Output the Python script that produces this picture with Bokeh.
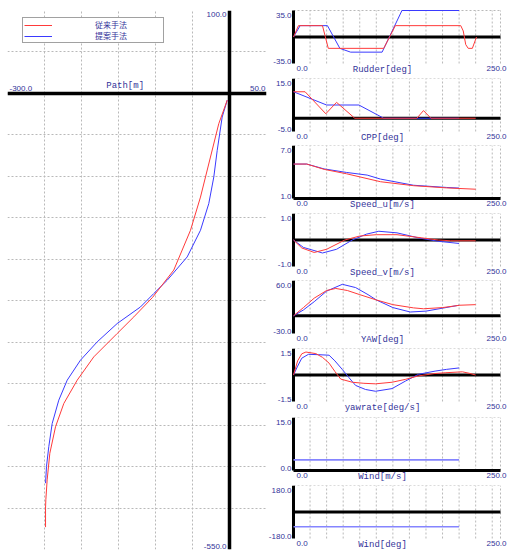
from bokeh.plotting import figure
from bokeh.models import Range1d, Span, Label, Grid, FixedTicker, Legend, LegendItem
from bokeh.layouts import row, column
from bokeh.embed import file_html
from bokeh.resources import INLINE

# ---------------- data ----------------
series_names = ["従来手法", "提案手法"]

# Path [m]  (conventional = red, proposed = blue)
path_conv_x = [-3, -14.5, -25.7, -39.2, -52.7, -75.3, -104, -129.3, -151.8, -183.4,
               -205.8, -223.9, -235.1, -242.8, -246.4, -248.2, -248.6, -248.6]
path_conv_y = [-8, -36.5, -76.7, -125, -165, -213, -246, -269.5, -289.5, -317.7,
               -345.8, -373.9, -402, -434, -466, -490, -500, -523]
path_prop_x = [-3, -9.9, -16.6, -21.2, -28, -39.2, -57.2, -84.2, -102.3, -120.3,
               -151.8, -178.8, -201.4, -219.3, -230.7, -239.6, -244.2, -247.3, -248.6]
path_prop_y = [-8, -28.5, -68.7, -100.8, -132.9, -165, -197.2, -225.3, -241.3, -257.5,
               -277.5, -299.6, -321.7, -345.8, -369.9, -398, -426, -450, -470]
path_x_range = [-300.0, 50.0]
path_y_range = [-550.0, 100.0]
path_title = "Path[m]"

time_range = [0.0, 250.0]

rudder_t_conv = [0, 6, 35, 42, 109, 123, 202, 205, 208, 211, 216, 221]
rudder_conv = [0, 15, 15, -15, -15, 15, 15, 8, -10, -15, -15, 0]
rudder_t_prop = [0, 8, 41, 56, 69, 107, 131, 200]
rudder_prop = [0, 15, 15, -15, -20, -20, 35, 35]

cpp_t_conv = [0, 14, 39, 52, 74, 149, 157, 166, 220]
cpp_conv = [10, 10, 1.7, 6, 0, 0, 2.9, 0, 0]
cpp_t_prop = [0, 40, 79, 109, 200]
cpp_prop = [10, 5, 5, 0, 0]

speed_u_t_conv = [0, 16, 37, 64, 105, 145, 185, 220]
speed_u_conv = [4.9, 4.9, 4.3, 3.8, 2.9, 2.45, 2.2, 2.05]
speed_u_t_prop = [0, 16, 37, 64, 89, 105, 145, 185, 200]
speed_u_prop = [4.9, 4.9, 4.35, 3.95, 3.65, 3.2, 2.5, 2.25, 2.18]

speed_v_t_conv = [0, 10, 25, 40, 62, 80, 100, 125, 155, 175, 190, 220]
speed_v_conv = [0, -0.3, -0.47, -0.35, 0, 0.15, 0.2, 0.2, 0.08, 0.0, -0.03, -0.03]
speed_v_t_prop = [0, 12, 35, 52, 71, 88, 103, 125, 151, 175, 200]
speed_v_prop = [0, -0.28, -0.49, -0.35, 0, 0.22, 0.33, 0.27, 0.08, -0.05, -0.13]

yaw_t_conv = [0, 12, 25, 40, 51, 65, 80, 100, 120, 145, 157, 180, 201, 220]
yaw_conv = [0, 14, 30, 43, 46.5, 43, 36, 27, 19, 13.5, 12, 14, 18, 19]
yaw_t_prop = [0, 12, 25, 40, 59, 75, 90, 100, 120, 141, 160, 180, 200]
yaw_prop = [0, 10, 24, 42, 53.5, 48, 36, 27, 14, 6.5, 8, 13, 18]

yawrate_t_conv = [0, 5, 10, 15, 27, 35, 43, 50, 57, 71, 85, 99, 119, 135, 151, 170, 184, 204, 212, 220]
yawrate_conv = [0, 0.8, 1.2, 1.3, 1.21, 1.0, 0.67, 0.2, -0.23, -0.41, -0.47, -0.5, -0.41,
                -0.25, -0.05, 0.08, 0.13, 0.18, 0.1, 0]
yawrate_t_prop = [0, 5, 10, 18, 30, 43, 50, 59, 67, 75, 87, 99, 119, 135, 151, 171, 185, 200]
yawrate_prop = [0, 0.5, 0.95, 1.17, 1.15, 1.12, 0.8, 0.31, -0.15, -0.59, -0.82, -0.92, -0.77,
                -0.35, 0.04, 0.22, 0.32, 0.4]

wind_t = [0, 200]
wind_speed = [3, 3]
wind_dir = [-100, -100]

panel_titles = ["Rudder[deg]", "CPP[deg]", "Speed_u[m/s]", "Speed_v[m/s]",
                "YAW[deg]", "yawrate[deg/s]", "Wind[m/s]", "Wind[deg]"]
panel_ymin = [-35.0, -5.0, 1.0, -1.0, -30.0, -1.5, 0.0, -180.0]
panel_ymax = [35.0, 15.0, 7.0, 1.0, 60.0, 1.5, 15.0, 180.0]

# ---------------- style ----------------
RED = "#ff3a3a"
BLUE = "#3a3aff"
WIND_C = "#8585ff"
NAVY = "#333399"
GRIDC = "#b9b9b9"
MONO = "Liberation Mono"
SANS = "Liberation Sans"
TICK_SIZE = "8px"
TITLE_SIZE = "9px"


def fmt(v):
    return "%.1f" % v


def add_label(p, x, y, text, align, baseline, xo=0, yo=0, size=TICK_SIZE, font=SANS):
    p.add_layout(Label(x=x, y=y, text=text, text_align=align, text_baseline=baseline,
                       x_offset=xo, y_offset=yo, text_font=font, text_font_size=size,
                       text_color=NAVY))


def add_grid(p, dim, ticks):
    p.add_layout(Grid(dimension=dim, ticker=FixedTicker(ticks=ticks),
                      grid_line_color=GRIDC, grid_line_dash="2 2", grid_line_width=1))


# ---------------- left: path ----------------
LW, H = 267, 550
pl = figure(width=LW, height=H, x_range=Range1d(*path_x_range), y_range=Range1d(*path_y_range),
            x_axis_location=None, y_axis_location=None, toolbar_location=None,
            output_backend="svg", min_border_left=7, min_border_right=1,
            min_border_top=10, min_border_bottom=1, outline_line_color=None)
pl.xgrid.visible = False
pl.ygrid.visible = False
xmin, xmax = path_x_range
ymin, ymax = path_y_range
add_grid(pl, 0, list(range(int(xmin), int(xmax) + 1, 50)))
add_grid(pl, 1, list(range(int(ymin), int(ymax) + 1, 50)))
pl.add_layout(Span(location=0, dimension="height", line_color="black", line_width=3.5, level="underlay"))
pl.add_layout(Span(location=0, dimension="width", line_color="black", line_width=3.5, level="underlay"))
bl = pl.line(path_prop_x, path_prop_y, line_color=BLUE, line_width=1)
rl = pl.line(path_conv_x, path_conv_y, line_color=RED, line_width=1)

add_label(pl, xmin, 0, fmt(xmin), "left", "bottom", 2, 2)
add_label(pl, xmax, 0, fmt(xmax), "right", "bottom", -1, 2)
add_label(pl, 0, ymax, fmt(ymax), "right", "top", -3, -1)
add_label(pl, 0, ymin, fmt(ymin), "right", "bottom", -3, 1)
add_label(pl, xmin * 0.47, 0, path_title, "center", "bottom", 0, 2, size=TITLE_SIZE, font=MONO)

legend = Legend(items=[LegendItem(label=series_names[0], renderers=[rl]),
                       LegendItem(label=series_names[1], renderers=[bl])],
                location=(15, 506), padding=1, margin=0, spacing=0,
                glyph_width=28, glyph_height=10, label_height=10, label_standoff=43,
                label_width=67, label_text_font="Noto Sans CJK JP", label_text_font_size="8px",
                label_text_color=NAVY, border_line_color="#444444", border_line_width=1,
                background_fill_color="white", background_fill_alpha=1.0)
pl.add_layout(legend)

# ---------------- right: time series ----------------
RW = 240            # canvas width of each panel
PAD_L, PAD_R = 26, 7  # room for the texts left / right of the plotting box
FW, FH = RW - PAD_L - PAD_R, 53
canvas_h = [78, 67, 68, 67, 68, 69, 68, 65]
box_top = [10, 0, 0, 0, 0, 0, 0, 0]   # offset of plotting box inside its canvas

series = [
    (rudder_t_conv, rudder_conv, rudder_t_prop, rudder_prop),
    (cpp_t_conv, cpp_conv, cpp_t_prop, cpp_prop),
    (speed_u_t_conv, speed_u_conv, speed_u_t_prop, speed_u_prop),
    (speed_v_t_conv, speed_v_conv, speed_v_t_prop, speed_v_prop),
    (yaw_t_conv, yaw_conv, yaw_t_prop, yaw_prop),
    (yawrate_t_conv, yawrate_conv, yawrate_t_prop, yawrate_prop),
    (None, None, wind_t, wind_speed),
    (None, None, wind_t, wind_dir),
]

tmin, tmax = time_range
sx = FW / (tmax - tmin)
grid_t = list(range(20, int(tmax) - 9, 20)) + [tmax]
panels = []
for i, title in enumerate(panel_titles):
    h = canvas_h[i]
    y0, y1 = panel_ymin[i], panel_ymax[i]
    sy = FH / (y1 - y0)
    top_pad = box_top[i]
    bot_pad = h - top_pad - FH
    p = figure(width=RW, height=h,
               x_range=Range1d(tmin - PAD_L / sx, tmax + PAD_R / sx),
               y_range=Range1d(y0 - bot_pad / sy, y1 + top_pad / sy),
               x_axis_location=None, y_axis_location=None, toolbar_location=None,
               output_backend="svg", min_border=0, outline_line_color=None)
    p.xgrid.visible = False
    p.ygrid.visible = False
    # dashed grid inside the plotting box
    p.segment(x0=grid_t, y0=[y0] * len(grid_t), x1=grid_t, y1=[y1] * len(grid_t),
              line_color=GRIDC, line_dash="2 2", line_width=1)
    p.segment(x0=[tmin], y0=[y1], x1=[tmax], y1=[y1],
              line_color=GRIDC, line_dash="2 2", line_width=1)
    # thick axis lines
    zero = 0.0 if y0 <= 0.0 <= y1 else y0
    p.segment(x0=[tmin], y0=[y0], x1=[tmin], y1=[y1], line_color="black", line_width=3)
    p.segment(x0=[tmin], y0=[zero], x1=[tmax], y1=[zero], line_color="black", line_width=3)
    tc, vc, tp, vp = series[i]
    if tc is None:
        p.line(tp, vp, line_color=WIND_C, line_width=1.6)
    else:
        p.line(tp, vp, line_color=BLUE, line_width=1)
        p.line(tc, vc, line_color=RED, line_width=1)
    add_label(p, tmin, y1, fmt(y1), "right", "top", -2, -2)
    add_label(p, tmin, y0, fmt(y0), "right", "bottom", -2, 0)
    add_label(p, tmin, y0, fmt(tmin), "left", "top", 3, -2)
    add_label(p, tmax, y0, fmt(tmax), "right", "top", 6, -2)
    add_label(p, tmax * 0.43, y0, title, "center", "top", 0, -1, size=TITLE_SIZE, font=MONO)
    panels.append(p)

layout = row(pl, column(*panels, spacing=0), spacing=0)

open("out.html", "w").write(file_html(layout, INLINE))
